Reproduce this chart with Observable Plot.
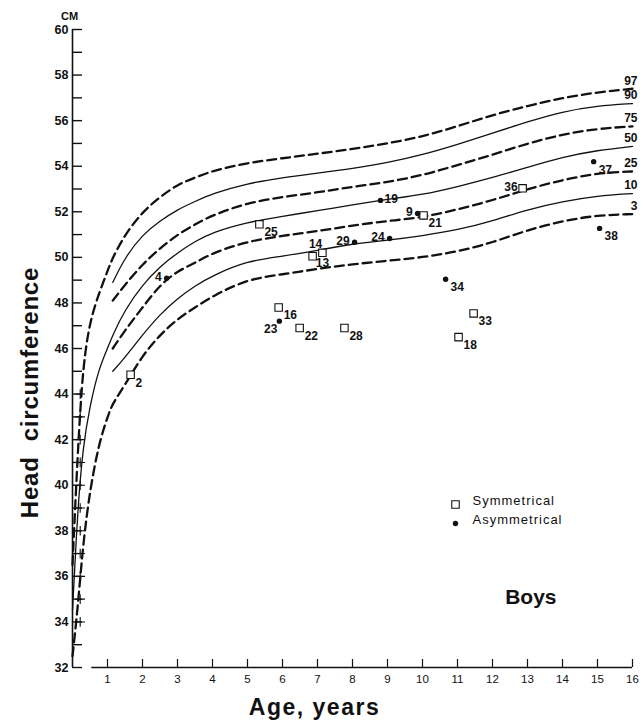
<!DOCTYPE html>
<html>
<head>
<meta charset="utf-8">
<script src="https://cdn.jsdelivr.net/npm/d3@7"></script>
<script src="https://cdn.jsdelivr.net/npm/@observablehq/plot@0.6"></script>
<style>
  body { margin: 0; background: #fff; }
  #chart svg { display: block; }
</style>
</head>
<body>
<div id="chart"></div>
<script>
// Head circumference percentiles for boys, ages 0–16 years (cm)
const ages = [0, 0.15, 0.3, 0.5, 0.75, 1, 1.15, 1.5, 2, 2.5, 3, 3.5, 4, 5, 6, 7, 8, 9, 10, 11, 12, 13, 14, 15, 16];
const p97 = [36.5, 41.5, 45.3, 47.2, 48.4, 49.4, 50.0, 51.0, 52.0, 52.65, 53.2, 53.5, 53.8, 54.15, 54.35, 54.55, 54.75, 55.0, 55.3, 55.75, 56.25, 56.65, 57.0, 57.25, 57.4];
const p90 = [null, null, null, null, null, null, 48.9, 50.0, 51.0, 51.6, 52.1, 52.45, 52.8, 53.25, 53.5, 53.7, 53.9, 54.15, 54.5, 54.95, 55.45, 55.95, 56.4, 56.65, 56.75];
const p75 = [null, null, null, null, null, null, 48.1, 48.8, 49.7, 50.4, 51.0, 51.45, 51.85, 52.4, 52.65, 52.85, 53.1, 53.3, 53.6, 54.05, 54.5, 55.0, 55.4, 55.65, 55.75];
const p50 = [34.5, 39.0, 41.7, 43.5, 45.1, 46.0, 46.6, 47.7, 48.8, 49.6, 50.2, 50.7, 51.1, 51.55, 51.8, 52.05, 52.3, 52.55, 52.75, 53.1, 53.5, 53.95, 54.4, 54.7, 54.87];
const p25 = [null, null, null, null, null, null, 46.0, 46.8, 47.8, 48.8, 49.4, 49.75, 50.2, 50.7, 50.95, 51.15, 51.4, 51.6, 51.75, 52.1, 52.5, 53.0, 53.4, 53.7, 53.77];
const p10 = [null, null, null, null, null, null, 45.0, 45.6, 46.6, 47.5, 48.2, 48.75, 49.2, 49.85, 50.05, 50.3, 50.6, 50.75, 50.95, 51.2, 51.6, 52.1, 52.45, 52.7, 52.8];
const p3  = [32.5, 34.6, 37.4, 39.8, 41.8, 43.0, 43.6, 44.4, 45.7, 46.6, 47.3, 47.8, 48.3, 49.05, 49.25, 49.5, 49.7, 49.85, 50.0, 50.25, 50.65, 51.2, 51.6, 51.85, 51.9];

const percentileNames = ["97", "90", "75", "50", "25", "10", "3"];
const percentileValues = [p97, p90, p75, p50, p25, p10, p3];
const dashedNames = ["97", "75", "25", "3"];

// Individual patients
const symCase = ["2", "25", "14", "13", "21", "36", "16", "22", "28", "33", "18"];
const symAge  = [1.66, 5.34, 6.86, 7.14, 10.03, 12.86, 5.89, 6.49, 7.77, 11.46, 11.03];
const symHc   = [44.85, 51.45, 50.05, 50.2, 51.84, 53.03, 47.8, 46.9, 46.9, 47.54, 46.5];

const asymCase = ["4", "19", "9", "29", "24", "23", "34", "37", "38"];
const asymAge  = [2.69, 8.8, 9.86, 8.06, 9.06, 5.91, 10.66, 14.89, 15.06];
const asymHc   = [49.08, 52.5, 51.93, 50.66, 50.83, 47.2, 49.04, 54.2, 51.27];

// Axis ticks
const ageTicks = d3.range(1, 17);
const cmTicks = d3.range(32, 61);

// Fine 1-cm graduation running beside the axis over the first months
const infantScaleAge = 0.22;
const infantScaleCm = d3.range(34, 45);

// Where each case number sits relative to its marker
const labelSide = {
  "2": "se", "25": "se", "14": "n", "13": "s", "21": "se", "36": "w", "16": "se",
  "22": "se", "28": "se", "33": "se", "18": "se",
  "4": "w", "19": "e", "9": "w", "29": "w", "24": "w", "23": "sw", "34": "se", "37": "se", "38": "se"
};
const sideOffsets = {
  se: {dx: 5, dy: 8, textAnchor: "start"},
  e:  {dx: 4, dy: -1, textAnchor: "start"},
  w:  {dx: -5, dy: -1, textAnchor: "end"},
  sw: {dx: -2, dy: 8, textAnchor: "end"},
  n:  {dx: 3, dy: -12, textAnchor: "middle"},
  s:  {dx: 0, dy: 10, textAnchor: "middle"}
};

// Long-format rows for the percentile curves
const curveRows = [];
percentileNames.forEach((name, i) => {
  ages.forEach((a, j) => {
    const v = percentileValues[i][j];
    if (v != null) curveRows.push({pct: name, age: a, cm: v, dashed: dashedNames.includes(name)});
  });
});
const curveEnds = percentileNames.map((name) => {
  const rows = curveRows.filter(d => d.pct === name);
  return rows[rows.length - 1];
});

const cases = [
  ...symCase.map((c, i) => ({id: c, age: symAge[i], cm: symHc[i], type: "Symmetrical"})),
  ...asymCase.map((c, i) => ({id: c, age: asymAge[i], cm: asymHc[i], type: "Asymmetrical"}))
];

const font = "'Liberation Sans', Arial, Helvetica, sans-serif";
const ink = "#111";

const caseLabelMarks = Object.entries(sideOffsets).map(([side, o]) =>
  Plot.text(cases.filter(d => labelSide[d.id] === side), {
    x: "age", y: "cm", text: "id", dx: o.dx, dy: o.dy, textAnchor: o.textAnchor,
    fontSize: 12, fontWeight: "bold", fill: ink
  })
);

const legendItems = ["Symmetrical", "Asymmetrical"];

const chart = Plot.plot({
  width: 643,
  height: 722,
  marginLeft: 72,
  marginRight: 11,
  marginTop: 29,
  marginBottom: 55,
  x: {domain: [0, 16]},
  y: {domain: [32, 60]},
  style: {fontFamily: font, background: "#fff", color: ink},
  marks: [
    // Axes
    Plot.ruleX([0], {y1: 32, y2: 60, stroke: ink, strokeWidth: 1.6}),
    Plot.ruleY([32], {x1: ageTicks[0] - 0.45, x2: ageTicks[ageTicks.length - 1], stroke: ink, strokeWidth: 1.4}),
    Plot.axisY({
      ticks: cmTicks, tickSize: -10, tickPadding: 14, strokeWidth: 1.4,
      tickFormat: d => (d % 2 === 0 ? String(d) : ""),
      fontSize: 12.5, fontWeight: "bold", label: null
    }),
    Plot.axisX({
      ticks: ageTicks, tickSize: -8, tickPadding: 15, strokeWidth: 1.2,
      tickFormat: d => String(d), fontSize: 11.5, label: null
    }),
    Plot.dot(infantScaleCm, {
      x: () => infantScaleAge, y: d => d, symbol: "plus", r: 3.2, stroke: ink, strokeWidth: 1.1
    }),

    // Percentile curves
    Plot.line(curveRows.filter(d => !d.dashed), {
      x: "age", y: "cm", z: "pct", curve: "basis", stroke: ink, strokeWidth: 1.3
    }),
    Plot.line(curveRows.filter(d => d.dashed), {
      x: "age", y: "cm", z: "pct", curve: "basis", stroke: ink, strokeWidth: 2.3,
      strokeDasharray: "9,5"
    }),
    Plot.text(curveEnds, {
      x: "age", y: "cm", text: "pct", textAnchor: "end", dx: 5, dy: -8,
      fontSize: 12, fontWeight: "bold", fill: ink
    }),

    // Cases
    Plot.dot(cases.filter(d => d.type === "Symmetrical"), {
      x: "age", y: "cm", symbol: "square", r: 4.2, stroke: ink, strokeWidth: 1.1, fill: "#fff"
    }),
    Plot.dot(cases.filter(d => d.type === "Asymmetrical"), {
      x: "age", y: "cm", r: 2.7, fill: ink
    }),
    ...caseLabelMarks,

    // Legend
    Plot.dot([legendItems[0]], {
      frameAnchor: "bottom-right", dx: -177, dy: -163, symbol: "square", r: 4.2,
      stroke: ink, strokeWidth: 1.1, fill: "#fff"
    }),
    Plot.dot([legendItems[1]], {
      frameAnchor: "bottom-right", dx: -177, dy: -144, r: 2.7, fill: ink
    }),
    Plot.text([legendItems[0]], {
      frameAnchor: "bottom-left", dx: 400, dy: -163, text: d => d, textAnchor: "start",
      fontSize: 13, fill: ink
    }),
    Plot.text([legendItems[1]], {
      frameAnchor: "bottom-left", dx: 400, dy: -144, text: d => d, textAnchor: "start",
      fontSize: 13, fill: ink
    }),

    // Titles
    Plot.text(["Boys"], {
      frameAnchor: "bottom-right", dx: -76, dy: -64, text: d => d,
      fontSize: 21, fontWeight: "bold", fill: ink
    }),
    Plot.text(["CM"], {
      frameAnchor: "top-left", dx: -3, dy: -17, text: d => d, textAnchor: "middle",
      fontSize: 11, fontWeight: "bold", fill: ink
    }),
    Plot.text(["Head  circumference"], {
      frameAnchor: "left", dx: -42, dy: 44, rotate: -90, text: d => d, textAnchor: "middle",
      fontSize: 24, fontWeight: "bold", fill: ink
    }),
    Plot.text(["Age, years"], {
      frameAnchor: "bottom", dx: -38, dy: 47, text: d => d,
      fontSize: 23, fontWeight: "bold", fill: ink
    })
  ]
});

// Spread letters to match the typewritten look of the labels
chart.querySelectorAll("text").forEach(t => {
  const s = t.textContent;
  if (s === "Head  circumference") t.setAttribute("letter-spacing", "0.8");
  if (s === "Age, years") t.setAttribute("letter-spacing", "1.5");
  if (s === "Symmetrical" || s === "Asymmetrical") t.setAttribute("letter-spacing", "1");
});

document.getElementById("chart").appendChild(chart);
</script>
</body>
</html>
